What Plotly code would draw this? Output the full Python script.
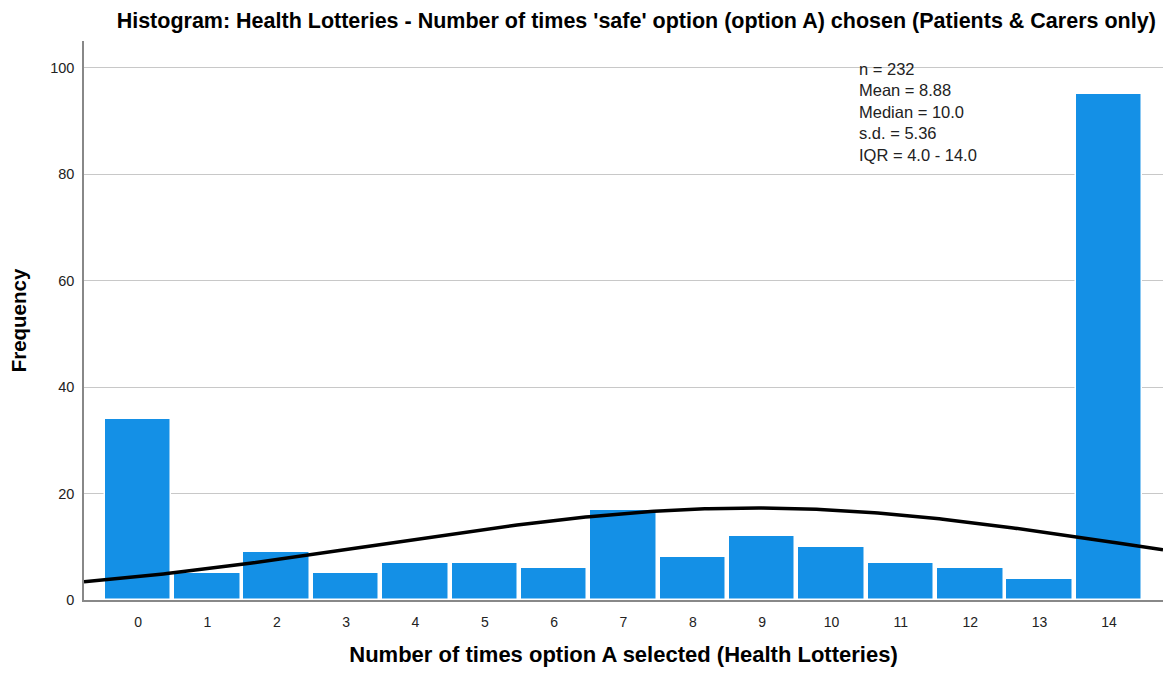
import numpy as np
import plotly.graph_objects as go

# Frequency of each count of 'safe' choices (0-14)
times_chosen = list(range(15))
frequency = [34, 5, 9, 5, 7, 7, 6, 17, 8, 12, 10, 7, 6, 4, 95]
tick_labels = [str(v) for v in times_chosen]

# Summary statistics shown on the chart
n_obs = 232
mean_val = 8.88
median_val = 10.0
sd_val = 5.36
iqr_low, iqr_high = 4.0, 14.0

x_lo, x_hi = -0.78, 14.78

# Normal curve scaled to counts (bin width 1)
xc = np.linspace(x_lo, x_hi, 300)
yc = n_obs / (sd_val * np.sqrt(2 * np.pi)) * np.exp(-0.5 * ((xc - mean_val) / sd_val) ** 2)

fig = go.Figure()
fig.add_trace(go.Bar(
    x=times_chosen, y=frequency, width=0.96,
    marker=dict(color="#1490E6", line=dict(color="white", width=1.5)),
    showlegend=False, hoverinfo="x+y",
))
fig.add_trace(go.Scatter(
    x=xc, y=yc, mode="lines", line=dict(color="black", width=3.5),
    showlegend=False, hoverinfo="skip",
))

stats_text = (f"n = {n_obs}<br>Mean = {mean_val:.2f}<br>Median = {median_val:.1f}"
              f"<br>s.d. = {sd_val:.2f}<br>IQR = {iqr_low:.1f} - {iqr_high:.1f}")
fig.add_annotation(
    x=10.36, y=101.8, xref="x", yref="y", text=stats_text, showarrow=False,
    xanchor="left", yanchor="top", align="left",
    font=dict(family="Liberation Sans, Arial", size=16.5, color="#222"),
)

fig.update_layout(
    width=1176, height=675,
    margin=dict(l=84, r=13, t=41, b=72),
    paper_bgcolor="white", plot_bgcolor="white",
    font=dict(family="Liberation Sans, Arial", color="#222"),
    title=dict(
        text="<b>Histogram: Health Lotteries - Number of times 'safe' option (option A) chosen (Patients &amp; Carers only)</b>",
        x=0.541, xanchor="center", y=0.97, yanchor="middle",
        font=dict(size=21.5, color="black"),
    ),
    xaxis=dict(
        range=[x_lo, x_hi], tickmode="array", tickvals=times_chosen, ticktext=tick_labels,
        showgrid=False, zeroline=False, showline=True, linecolor="#888", linewidth=1.5,
        ticks="", ticklabelstandoff=8, tickfont=dict(size=14, color="#222"),
        title=dict(text="<b>Number of times option A selected (Health Lotteries)</b>",
                   font=dict(size=22, color="black"), standoff=18),
    ),
    yaxis=dict(
        range=[0, 105], tickmode="array", tickvals=[0, 20, 40, 60, 80, 100],
        showgrid=True, gridcolor="#c8c8c8", gridwidth=1.2, zeroline=False,
        showline=True, linecolor="#888", linewidth=1.5,
        ticks="", ticklabelstandoff=5, tickfont=dict(size=14.5, color="#222"),
        title=dict(text="<b>Frequency</b>", font=dict(size=20.5, color="black"), standoff=18),
    ),
    bargap=0,
)

fig.write_html("out.html")
